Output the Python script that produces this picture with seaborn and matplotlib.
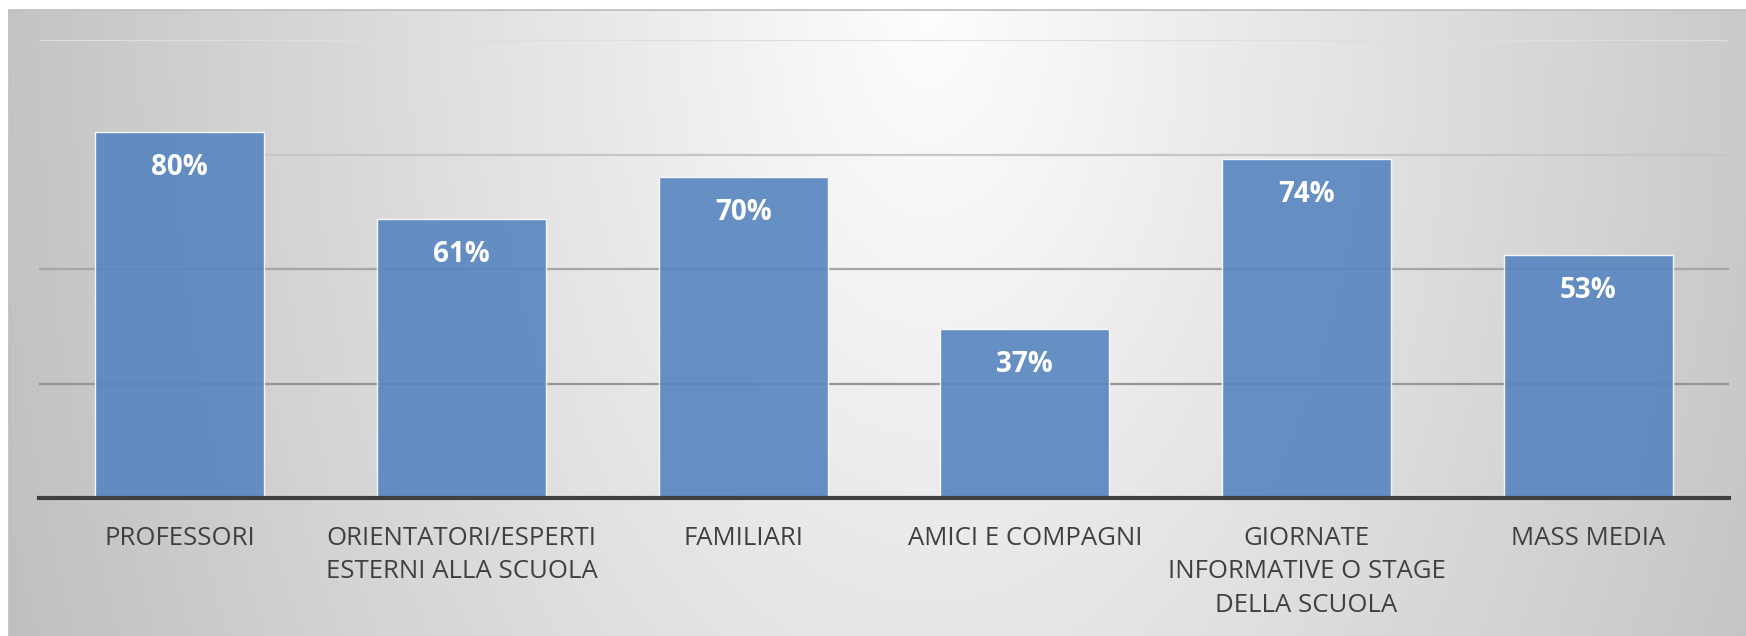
import numpy as np
import matplotlib
matplotlib.use("Agg")
import matplotlib.pyplot as plt
from matplotlib.patches import Rectangle
import seaborn as sns

categories = [
    "PROFESSORI",
    "ORIENTATORI/ESPERTI\nESTERNI ALLA SCUOLA",
    "FAMILIARI",
    "AMICI E COMPAGNI",
    "GIORNATE\nINFORMATIVE O STAGE\nDELLA SCUOLA",
    "MASS MEDIA",
]
values = [0.80, 0.61, 0.70, 0.37, 0.74, 0.53]
value_labels = ["80%", "61%", "70%", "37%", "74%", "53%"]
grid_ticks = [0.25, 0.50, 0.75, 1.00]
grid_colors = ["#959595", "#a6a6a6", "#c6c6c6", "#dedede"]

sns.set_theme(style="white")
plt.rcParams["font.family"] = ["Open Sans", "DejaVu Sans"]

W, H = 1746, 636
fig = plt.figure(figsize=(W / 100, H / 100), dpi=100)
fig.patch.set_facecolor("white")

# background gradient panel
bg = fig.add_axes([0, 0, 1, 1], zorder=-5)
bg.set_xlim(0, 1)
bg.set_ylim(0, 1)
bg.axis("off")
nx, ny = 400, 160
xx, yy = np.meshgrid(np.linspace(0, 1, nx), np.linspace(1, 0, ny))
t = np.sqrt(((xx - 0.53) / 0.55) ** 2 + ((yy - 1.0) / 2.6) ** 2)
g = np.clip(0.995 - 0.235 * t, 0, 1)
img = np.dstack([g, g, g])
x0 = 9 / W
y1 = 1 - 10 / H
bg.imshow(img, extent=[x0, 1, 0, y1], aspect="auto", interpolation="bicubic")
bg.add_patch(Rectangle((x0, -0.01), 1.01 - x0, y1 + 0.01, fill=False,
                       edgecolor="#bdbdbd", lw=1.2))

top_px = 40
ax = fig.add_axes([39 / W, 138 / H, (1729 - 39) / W, (H - top_px - 138) / H])
ax.set_facecolor("none")

for yv, c in zip(grid_ticks, grid_colors):
    ax.axhline(yv, color=c, lw=1.6, zorder=1)

sns.barplot(x=categories, y=values, ax=ax, width=0.6, color="#5785c0",
            saturation=1, alpha=0.9, edgecolor=(1, 1, 1, 0.35), linewidth=1,
            zorder=2)

ax.set_ylim(0, 1.0)
ax.set_xlim(-0.5, len(categories) - 0.5)
ax.set_yticks([])
ax.set_ylabel("")
ax.set_xlabel("")
for s in ["top", "left", "right"]:
    ax.spines[s].set_visible(False)
ax.spines["bottom"].set_color("#404040")
ax.spines["bottom"].set_linewidth(3)
ax.spines["bottom"].set_zorder(4)

ax.tick_params(axis="x", length=0, pad=20, labelsize=18.5, labelcolor="#404040")
for lbl in ax.get_xticklabels():
    lbl.set_linespacing(1.45)
    lbl.set_multialignment("center")

for i, (v, s) in enumerate(zip(values, value_labels)):
    ax.annotate(s, (i, v), xytext=(0, -31), textcoords="offset points",
                ha="center", va="baseline", color="white",
                fontsize=20, fontweight="bold", zorder=5)

fig.savefig("out.png", dpi=100, facecolor=fig.get_facecolor())
